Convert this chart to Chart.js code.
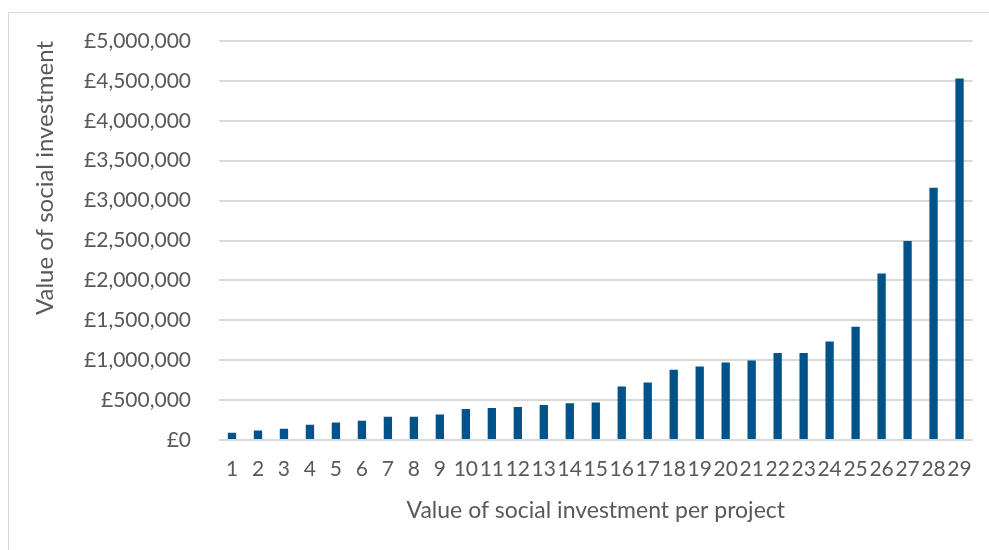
<!DOCTYPE html>
<html lang="en">
<head>
    <meta charset="UTF-8">
    <title>Value of social investment per project</title>
    <style type="text/css">
        body {
            margin: 0;
            background: #fff;
        }
        .frame {
            position: absolute;
            left: 8px;
            top: 12px;
            width: 1000px;
            height: 560px;
            border-left: 1px solid #d9d9d9;
            border-top: 1px solid #d9d9d9;
        }
        .chartBox {
            position: absolute;
            left: 0;
            top: 0;
            width: 989px;
            height: 550px;
        }
    </style>
</head>
<body>
    <div class="frame"></div>
    <div class="chartBox">
    <canvas id="myChart"></canvas>
    </div>
    <script src="https://cdn.jsdelivr.net/npm/chart.js"></script>
    <script>
    // project numbers along the x axis
    const projects = ['1', '2', '3', '4', '5', '6', '7', '8', '9', '10',
        '11', '12', '13', '14', '15', '16', '17', '18', '19', '20',
        '21', '22', '23', '24', '25', '26', '27', '28', '29'];

    // social investment per project, in pounds
    const investment = [90000, 120000, 140000, 190000, 220000, 240000, 290000, 290000, 320000, 390000,
        400000, 415000, 440000, 460000, 470000, 670000, 720000, 880000, 920000, 970000,
        995000, 1090000, 1090000, 1235000, 1420000, 2085000, 2495000, 3160000, 4530000];

    // y axis range and step
    const yMax = 5000000;
    const yStep = 500000;

    const textGrey = '#595959';
    const gridGrey = '#d9d9d9';
    const fontFamily = 'Lato, "Open Sans", sans-serif';

    Chart.defaults.font.family = fontFamily;
    Chart.defaults.color = textGrey;

    const ctx = document.getElementById('myChart').getContext('2d');
    const myChart = new Chart(ctx, {
        type: 'bar',
        data: {
            labels: projects,
            datasets: [{
                label: 'Value of social investment',
                data: investment,
                backgroundColor: '#00538a',
                categoryPercentage: 1,
                barPercentage: 0.32
            }]
        },
        options: {
            responsive: true,
            maintainAspectRatio: false,
            animation: false,
            layout: {
                padding: { top: 41, right: 16, bottom: 0, left: 0 }
            },
            plugins: {
                legend: { display: false },
                tooltip: { enabled: false }
            },
            scales: {
                x: {
                    grid: { display: false, drawTicks: false },
                    border: { display: false },
                    ticks: {
                        autoSkip: false,
                        maxRotation: 0,
                        padding: 17,
                        font: { size: 21 },
                        color: textGrey
                    },
                    title: {
                        display: true,
                        text: 'Value of social investment per project',
                        font: { size: 23 },
                        color: textGrey,
                        padding: { top: 0, bottom: 26 }
                    },
                    afterFit: scale => { scale.height = 110; }
                },
                y: {
                    min: 0,
                    max: yMax,
                    grid: { color: gridGrey, lineWidth: 2, drawTicks: false },
                    border: { display: false },
                    ticks: {
                        stepSize: yStep,
                        padding: 28,
                        font: { size: 21 },
                        color: textGrey,
                        callback: value => '£' + Number(value).toLocaleString('en-GB')
                    },
                    title: {
                        display: true,
                        text: 'Value of social investment',
                        align: 'end',
                        font: { size: 24 },
                        color: textGrey,
                        padding: { top: 31, bottom: 0 }
                    },
                    afterFit: scale => { scale.width = 219; }
                }
            }
        }
    });
    </script>
</body>
</html>
